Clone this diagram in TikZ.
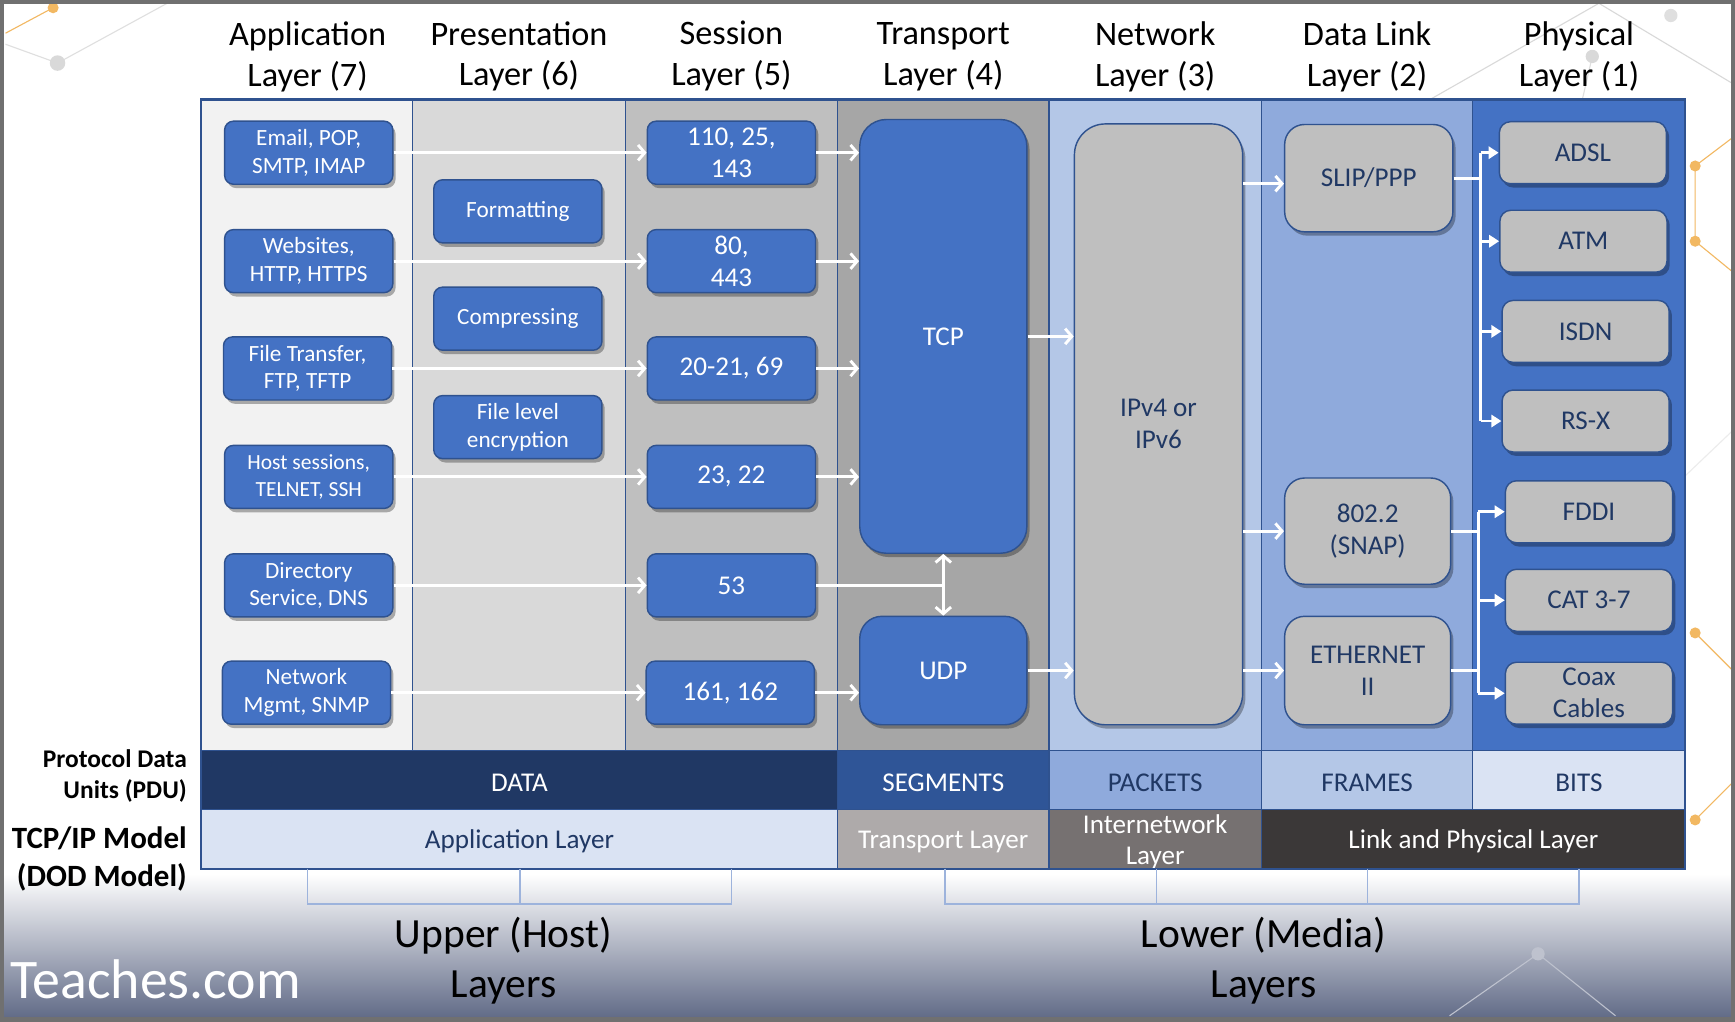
\documentclass[tikz,border=0pt]{standalone}
\usepackage{fontspec}
\setmainfont{Carlito}
\usetikzlibrary{arrows.meta,shadows,calc}
\definecolor{accent}{HTML}{4472C4}
\definecolor{accdk}{HTML}{2F528F}
\definecolor{navy}{HTML}{203864}
\definecolor{segblue}{HTML}{2F5597}
\definecolor{lbA}{HTML}{8FAADC}
\definecolor{lbB}{HTML}{B4C7E7}
\definecolor{lbC}{HTML}{DAE3F3}
\definecolor{gA}{HTML}{F2F2F2}
\definecolor{gB}{HTML}{D9D9D9}
\definecolor{gC}{HTML}{BFBFBF}
\definecolor{gD}{HTML}{A6A6A6}
\definecolor{tgA}{HTML}{AEAAAA}
\definecolor{tgB}{HTML}{767171}
\definecolor{tgC}{HTML}{3B3838}
\definecolor{orng}{HTML}{F2B862}
\definecolor{bgbot}{HTML}{5D6784}
\definecolor{framegray}{HTML}{707070}
\definecolor{brk}{HTML}{9DB3DC}
\newcommand{\fs}[2]{\fontsize{#1}{#2}\selectfont}
\tikzset{
  bluebox/.style={draw=accdk, line width=1.3pt, fill=accent, rounded corners=8pt,
    text=white, align=center, minimum width=152pt, minimum height=57pt, inner sep=2pt,
    drop shadow={shadow xshift=2.5pt, shadow yshift=-3.5pt, opacity=0.3, fill=black}},
  graybox/.style={bluebox, fill=gC, text=navy},
  smallfont/.style={font=\fs{21}{25}},
  bigfont/.style={font=\fs{24.5}{29}},
  hdr/.style={font=\fs{31}{37}, align=center, text=black, inner sep=0pt},
  cell/.style={draw=accdk, line width=1pt, minimum height=53.5pt, inner sep=0pt},
  celltext/.style={font=\fs{24.5}{28}, align=center, inner sep=0pt},
  warr/.style={white, line width=2.6pt, -{Straight Barb[length=6pt,width=14pt]}},
  wline/.style={white, line width=2.6pt},
  wdbl/.style={white, line width=2.6pt,
    {Straight Barb[length=6pt,width=14pt]}-{Straight Barb[length=6pt,width=14pt]}},
  wtri/.style={white, line width=2.4pt, -{Triangle[length=9pt,width=11pt]}},
  deco/.style={line width=1pt},
}
\begin{document}
\begin{tikzpicture}[x=1pt,y=-1pt]
\useasboundingbox (0,0) rectangle (1568,923);
% background
\fill[white] (0,0) rectangle (1568,923);
\shade[top color=white, bottom color=bgbot] (0,790) rectangle (1568,923);
% decorations
\draw[deco, orng] (48,7) -- (5,30);
\fill[orng] (48,7) circle (5);
\draw[deco, gray!25] (52,57) -- (151,3);
\draw[deco, gray!25] (52,57) -- (5,40);
\fill[gray!30] (52,57) circle (7);
\draw[deco, gray!30] (1294,89) -- (1445,3) -- (1565,75);
\draw[deco, gray!25] (1439,51) -- (1430,90);
\fill[gray!30] (1439,51) circle (6);
\fill[gray!25] (1510,14) circle (6);
\draw[deco, orng] (1565,125) -- (1532,150) -- (1532,218) -- (1565,245);
\fill[orng] (1532,150) circle (5);
\fill[orng] (1532,218) circle (5);
\draw[deco, orng] (1532,572) -- (1565,605);
\fill[orng] (1532,572) circle (5);
\draw[deco, orng] (1532,741) -- (1565,708);
\fill[orng] (1532,741) circle (5);
\draw[deco, gray!15] (1523,430) -- (1565,390);
\draw[deco, bgbot!40!white] (1310,918) -- (1390,862) -- (1460,918);
\fill[bgbot!40!white] (1390,862) circle (6);
% headers
\node[hdr] (h7) at (278,51) {Application\\Layer (7)};
\node[hdr] (h6) at (469,51) {Presentation\\Layer (6)};
\node[hdr] (h5) at (661,51) {Session\\Layer (5)};
\node[hdr] (h4) at (852.5,51) {Transport\\Layer (4)};
\node[hdr] (h3) at (1044,51) {Network\\Layer (3)};
\node[hdr] (h2) at (1235.5,51) {Data Link\\Layer (2)};
\node[hdr] (h1) at (1427,51) {Physical\\Layer (1)};
% columns
\fill[gA] (182,90) rectangle (373,678);
\fill[gB] (373,90) rectangle (565,678);
\fill[gC] (565,90) rectangle (757,678);
\fill[gD] (757,90) rectangle (948,678);
\fill[lbB] (948,90) rectangle (1140,678);
\fill[lbA] (1140,90) rectangle (1331,678);
\fill[accent] (1331,90) rectangle (1523,678);
\foreach \xx in {373,565,757,948,1140,1331}
  \draw[accdk, line width=1pt] (\xx,90) -- (\xx,678);
% PDU row
\node[cell, fill=navy, minimum width=575pt] (pdata) at (469.5,705) {};
\node[cell, fill=segblue, minimum width=191pt] (pseg) at (852.5,705) {};
\node[cell, fill=lbA, minimum width=192pt] (ppkt) at (1044,705) {};
\node[cell, fill=lbB, minimum width=191pt] (pfrm) at (1235.5,705) {};
\node[cell, fill=lbC, minimum width=192pt] (pbit) at (1427,705) {};
\node[celltext, text=white] (tdata) at (469.5,707) {DATA};
\node[celltext, text=white] (tseg) at (852.5,707) {SEGMENTS};
\node[celltext, text=navy] (tpkt) at (1044,707) {PACKETS};
\node[celltext, text=navy] (tfrm) at (1235.5,707) {FRAMES};
\node[celltext, text=navy] (tbit) at (1427,707) {BITS};
% TCP/IP row
\node[cell, fill=lbC, minimum width=575pt] (tapp) at (469.5,758.5) {};
\node[cell, fill=tgA, minimum width=191pt] (ttrn) at (852.5,758.5) {};
\node[cell, fill=tgB, minimum width=192pt] (tint) at (1044,758.5) {};
\node[cell, fill=tgC, minimum width=383pt] (tlnk) at (1331.5,758.5) {};
\node[celltext, text=navy] (tappt) at (469.5,760.5) {Application Layer};
\node[celltext, text=white] (ttrnt) at (852.5,760.5) {Transport Layer};
\node[celltext, text=white] (tintt) at (1044,761) {Internetwork\\Layer};
\node[celltext, text=white] (tlnkt) at (1331.5,760.5) {Link and Physical Layer};
\draw[accdk, line width=2pt] (182,90) rectangle (1523,785);
% brackets
\draw[brk, line width=1.2pt] (278,785) -- (278,817) -- (661,817) -- (661,785);
\draw[brk, line width=1.2pt] (470,785) -- (470,817);
\draw[brk, line width=1.2pt] (854,785) -- (854,817) -- (1427,817) -- (1427,785);
\draw[brk, line width=1.2pt] (1045,785) -- (1045,817);
\draw[brk, line width=1.2pt] (1236,785) -- (1236,817);
% left labels
\node[font=\bfseries\fs{23}{28}, align=right, anchor=east, inner sep=0pt] (pdulbl) at (169,701) {Protocol Data\\Units (PDU)};
\node[font=\bfseries\fs{28}{34}, align=right, anchor=east, inner sep=0pt] (tcplbl) at (169,776.5) {TCP/IP Model\\(DOD Model)};
% bottom labels
\node[font=\fs{37.5}{45}, align=center, inner sep=0pt] (upper) at (455,868) {Upper (Host)\\Layers};
\node[font=\fs{37.5}{45}, align=center, inner sep=0pt] (lower) at (1142,868) {Lower (Media)\\Layers};
\node[font=\fs{50.5}{58}, text=white, anchor=west, inner sep=0pt] (brand) at (9,885) {Teaches.com};
% application boxes
\node[bluebox, smallfont] (email) at (279,138) {Email, POP,\\SMTP, IMAP};
\node[bluebox, smallfont] (web) at (279,236) {Websites,\\HTTP, HTTPS};
\node[bluebox, smallfont] (ftp) at (278,333) {File Transfer,\\FTP, TFTP};
\node[bluebox, font=\fs{19.5}{25}] (host) at (279,431) {Host sessions,\\TELNET, SSH};
\node[bluebox, smallfont] (dns) at (279,529) {Directory\\Service, DNS};
\node[bluebox, smallfont] (snmp) at (277,626) {Network\\Mgmt, SNMP};
% presentation boxes
\node[bluebox, smallfont] (fmt) at (468,191) {Formatting};
\node[bluebox, smallfont] (comp) at (468,288) {Compressing};
\node[bluebox, smallfont] (enc) at (468,386) {File level\\encryption};
% session boxes
\node[bluebox, bigfont] (s110) at (661,138) {110, 25,\\143};
\node[bluebox, bigfont] (s80) at (661,236) {80,\\443};
\node[bluebox, bigfont] (s20) at (661,333) {20-21, 69};
\node[bluebox, bigfont] (s23) at (661,431) {23, 22};
\node[bluebox, bigfont] (s53) at (661,529) {53};
\node[bluebox, bigfont] (s161) at (660,626) {161, 162};
% transport
\node[bluebox, bigfont, rounded corners=24pt, minimum width=151pt, minimum height=392pt] (tcp) at (852.5,304) {TCP};
\node[bluebox, bigfont, rounded corners=20pt, minimum width=151pt, minimum height=98pt] (udp) at (852.5,606) {UDP};
% network
\node[graybox, bigfont, rounded corners=28pt, minimum width=152pt, minimum height=543pt] (ip) at (1047,383.5) {IPv4 or\\IPv6};
% data link
\node[graybox, bigfont, rounded corners=18pt, minimum width=152pt, minimum height=97pt] (slip) at (1237,161) {SLIP/PPP};
\node[graybox, bigfont, rounded corners=18pt, minimum width=150pt, minimum height=96pt] (snap) at (1236,480) {802.2\\(SNAP)};
\node[graybox, bigfont, rounded corners=18pt, minimum width=150pt, minimum height=98pt] (eth) at (1236,606) {ETHERNET\\II};
% physical
\node[graybox, bigfont, rounded corners=10pt, minimum width=151pt, minimum height=56pt] (adsl) at (1430.5,138) {ADSL};
\node[graybox, bigfont, rounded corners=10pt, minimum width=151pt, minimum height=56pt] (atm) at (1431,218) {ATM};
\node[graybox, bigfont, rounded corners=10pt, minimum width=151pt, minimum height=56pt] (isdn) at (1433,299.5) {ISDN};
\node[graybox, bigfont, rounded corners=10pt, minimum width=151pt, minimum height=56pt] (rsx) at (1433,380.5) {RS-X};
\node[graybox, bigfont, rounded corners=10pt, minimum width=151pt, minimum height=56pt] (fddi) at (1436,462.5) {FDDI};
\node[graybox, bigfont, rounded corners=10pt, minimum width=151pt, minimum height=56pt] (cat) at (1436,542.5) {CAT 3-7};
\node[graybox, bigfont, rounded corners=10pt, minimum width=151pt, minimum height=56pt] (coax) at (1436,626.5) {Coax\\Cables};
% arrows application -> session
\draw[warr] (email.east) -- (s110.west);
\draw[warr] (web.east) -- (s80.west);
\draw[warr] (ftp.east) -- (s20.west);
\draw[warr] (host.east) -- (s23.west);
\draw[warr] (dns.east) -- (s53.west);
\draw[warr] (snmp.east) -- (s161.west);
% session -> transport
\draw[warr] (s110.east) -- (s110.east -| tcp.west);
\draw[warr] (s80.east) -- (s80.east -| tcp.west);
\draw[warr] (s20.east) -- (s20.east -| tcp.west);
\draw[warr] (s23.east) -- (s23.east -| tcp.west);
\draw[warr] (s161.east) -- (s161.east -| udp.west);
\draw[wline] (s53.east) -- (s53.east -| tcp.south);
\draw[wdbl] (tcp.south) -- (udp.north);
% transport -> network
\draw[warr] (tcp.east) -- (tcp.east -| ip.west);
\draw[warr] (udp.east) -- (udp.east -| ip.west);
% network -> data link
\coordinate (slin) at ($(slip.west)+(0,5)$);
\draw[warr] (slin -| ip.east) -- (slin);
\draw[warr] (snap.west -| ip.east) -- (snap.west);
\draw[warr] (eth.west -| ip.east) -- (eth.west);
% data link -> physical
\coordinate (j1) at (1338,161);
\coordinate (j2) at (1336,480);
\draw[wline] (slip.east) -- (j1);
\draw[wline] (j1 |- adsl.west) -- (j1 |- rsx.west);
\draw[wtri] (j1 |- adsl.west) -- (adsl.west);
\draw[wtri] (j1 |- atm.west) -- (atm.west);
\draw[wtri] (j1 |- isdn.west) -- (isdn.west);
\draw[wtri] (j1 |- rsx.west) -- (rsx.west);
\draw[wline] (snap.east) -- (j2);
\draw[wline] (eth.east) -- (j2 |- eth.east);
\draw[wline] (j2 |- fddi.west) -- (j2 |- coax.west);
\draw[wtri] (j2 |- fddi.west) -- (fddi.west);
\draw[wtri] (j2 |- cat.west) -- (cat.west);
\draw[wtri] (j2 |- coax.west) -- (coax.west);
% frame
\draw[framegray, line width=8pt] (0,0) rectangle (1568,923);
\end{tikzpicture}
\end{document}
